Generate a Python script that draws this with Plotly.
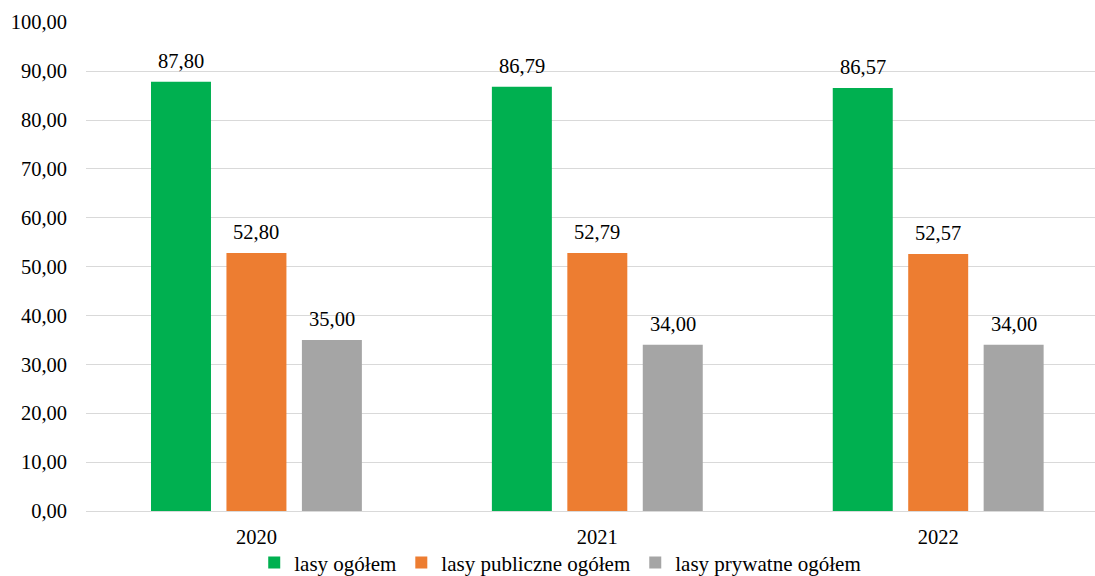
import plotly.graph_objects as go

years = ["2020", "2021", "2022"]
series_names = ["lasy ogółem", "lasy publiczne ogółem", "lasy prywatne ogółem"]
lasy_ogolem = [87.80, 86.79, 86.57]
lasy_publiczne = [52.80, 52.79, 52.57]
lasy_prywatne = [35.00, 34.00, 34.00]
colors = ["#00B050", "#ED7D31", "#A5A5A5"]
y_ticks = [0, 10, 20, 30, 40, 50, 60, 70, 80, 90, 100]

FONT = "'Times New Roman', 'Liberation Serif', 'DejaVu Serif', serif"
all_values = [lasy_ogolem, lasy_publiczne, lasy_prywatne]

fig = go.Figure()
for name, vals, col in zip(series_names, all_values, colors):
    fig.add_trace(go.Bar(x=years, y=vals, name=name, marker_color=col,
                         marker_line_width=0))

# value labels above bars (x given as category index)
shifts = [-75.5, 0, 75.5]
for vals, sh in zip(all_values, shifts):
    for i, v in enumerate(vals):
        fig.add_annotation(x=i, y=v, text=f"{v:.2f}".replace(".", ","),
                           showarrow=False, yanchor="bottom", xanchor="center",
                           xshift=sh, yshift=8,
                           font=dict(family=FONT, size=20.5, color="#000000"))

fig.update_layout(
    width=1095, height=576,
    margin=dict(l=86, r=0, t=22, b=65, autoexpand=False),
    paper_bgcolor="white", plot_bgcolor="white",
    barmode="group", bargap=0.336, bargroupgap=0.205,
    separators=",.",
    font=dict(family=FONT, size=20.5, color="#000000"),
    showlegend=True,
    legend=dict(orientation="h", x=0.47, xanchor="center", y=-0.106, yanchor="middle",
                font=dict(family=FONT, size=21, color="#000000"),
                itemwidth=30, tracegroupgap=0, bgcolor="rgba(0,0,0,0)"),
)
fig.update_xaxes(type="category", range=[-0.5, 2.46], showgrid=False, showline=False,
                 ticks="", ticklabelstandoff=11,
                 tickfont=dict(family=FONT, size=20.5, color="#000000"))
fig.update_yaxes(range=[0, 100.05], tickvals=y_ticks, tickformat=".2f",
                 showgrid=True, gridcolor="#D9D9D9", gridwidth=1,
                 zeroline=True, zerolinecolor="#D9D9D9", zerolinewidth=1,
                 showline=False, ticks="", ticklabelstandoff=18,
                 tickfont=dict(family=FONT, size=20.5, color="#000000"))

fig.write_html("out.html", config={"displayModeBar": False},
               post_script="document.body.style.margin='0';document.body.style.padding='0';")
